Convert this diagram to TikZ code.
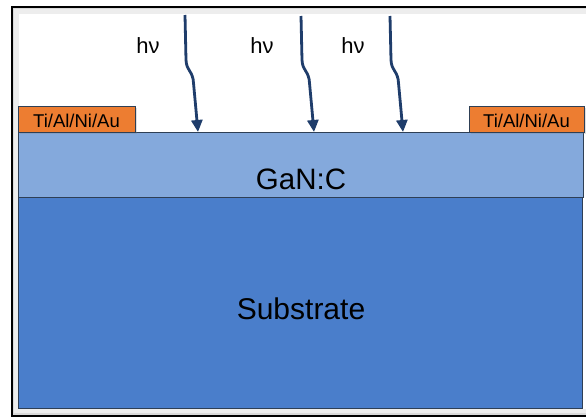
\documentclass[tikz,border=0pt]{standalone}
\usepackage{fontspec}
\setmainfont{Liberation Sans}
\usetikzlibrary{arrows.meta,shadows}
\definecolor{ganc}{HTML}{84A9DC}
\definecolor{subs}{HTML}{4A7ECB}
\definecolor{metal}{HTML}{ED7D31}
\definecolor{ray}{HTML}{1F3D6B}
\definecolor{edge}{HTML}{2E3F55}
\tikzset{
  layer/.style={draw=edge, line width=0.8pt, inner sep=0pt, outer sep=0pt},
  contact/.style={draw=edge, line width=0.8pt, fill=metal, inner sep=0pt, outer sep=0pt,
    drop shadow={opacity=0.25, shadow xshift=2pt, shadow yshift=-1.5pt}},
  lbl/.style={inner sep=0pt, anchor=base},
  photon/.style={draw=ray, line width=2.8pt, -{Triangle[length=12pt,width=11pt]}},
}
\begin{document}
\begin{tikzpicture}[x=1pt,y=1pt]
\useasboundingbox (0,0) rectangle (586,-418);
\fill[white] (0,0) rectangle (586,-418);
% frame with inner shadow
\fill[gray!30] (12,-7) rectangle (590,-416);
\fill[gray!14] (14,-9) rectangle (590,-413);
\fill[white] (19,-14) rectangle (590,-409);
\draw[black, line width=2.4pt] (590,-7) -- (12,-7) -- (12,-416) -- (590,-416);
% layers
\node[layer, fill=subs, minimum width=564pt, minimum height=211pt, anchor=north west] (sub) at (18,-197) {};
\node[layer, fill=ganc, minimum width=565pt, minimum height=65pt, anchor=north west] (gan) at (18,-132) {};
\node[contact, minimum width=117pt, minimum height=26pt, anchor=south west] (cl) at (18,-132) {};
\node[contact, minimum width=115pt, minimum height=26pt, anchor=south west] (cr) at (469,-132) {};
% texts
\node[lbl, font=\fontsize{18.5}{18.5}\selectfont] (tl) at (cl.center |- 0,-127) {Ti/Al/Ni/Au};
\node[lbl, font=\fontsize{18.5}{18.5}\selectfont] (tr) at (cr.center |- 0,-127) {Ti/Al/Ni/Au};
\node[lbl, font=\fontsize{29.5}{29.5}\selectfont] (gantxt) at (301,-189) {GaN:C};
\node[lbl, font=\fontsize{30}{30}\selectfont] (subtxt) at (301,-319) {Substrate};
\node[lbl, font=\fontsize{22}{22}\selectfont] (h1) at (148,-53) {hν};
\node[lbl, font=\fontsize{22}{22}\selectfont] (h2) at (262,-53) {hν};
\node[lbl, font=\fontsize{22}{22}\selectfont] (h3) at (353,-53) {hν};
% photons
\coordinate (s1) at (185,-15);
\coordinate (s2) at (301,-16);
\coordinate (s3) at (390,-16);
\coordinate (e1) at (198,-132);
\coordinate (e2) at (314,-132);
\coordinate (e3) at (403,-132);
\draw[photon] (s1) -- (186,-60) .. controls (186.6,-72) and (193,-70) .. (193.6,-84) -- (e1);
\draw[photon] (s2) -- (302,-60) .. controls (302.6,-72) and (309,-70) .. (309.6,-84) -- (e2);
\draw[photon] (s3) -- (391,-60) .. controls (391.6,-72) and (398,-70) .. (398.6,-84) -- (e3);
\end{tikzpicture}
\end{document}
